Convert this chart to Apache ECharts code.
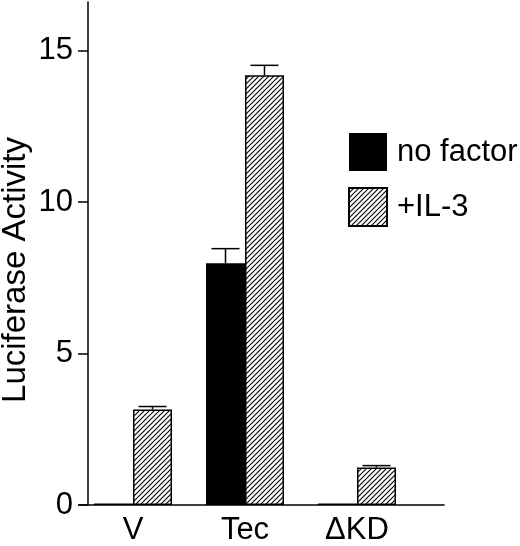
<!DOCTYPE html>
<html>
<head>
<meta charset="utf-8">
<script src="https://cdn.jsdelivr.net/npm/echarts@6/dist/echarts.min.js"></script>
<style>
  html, body { margin: 0; padding: 0; background: #fff; }
  #chart { width: 520px; height: 546px; }
</style>
</head>
<body>
<div id="chart"></div>
<script>
// values
const categories = ['V', 'Tec', 'ΔKD']
const noFactor = [0.05, 7.98, 0.05]
const il3 = [3.15, 14.18, 1.24]
const noFactorErr = [0, 0.48, 0]
const il3Err = [0.1, 0.33, 0.06]
const yTicks = [0, 5, 10, 15]

const FONT = 'Liberation Sans, Arial, Helvetica, sans-serif'
const BAR_W = 39

// diagonal hatch tile
function hatch () {
    const c = document.createElement('canvas')
    c.width = 5
    c.height = 5
    const ctx = c.getContext('2d')
    ctx.fillStyle = '#fff'
    ctx.fillRect(0, 0, 5, 5)
    ctx.strokeStyle = '#000'
    ctx.lineWidth = 1.1
    ctx.beginPath()
    ctx.moveTo(-1, 6); ctx.lineTo(6, -1)
    ctx.moveTo(-1, 1); ctx.lineTo(1, -1)
    ctx.moveTo(4, 6); ctx.lineTo(6, 4)
    ctx.stroke()
    return c
}
const hatchFill = { image: hatch(), repeat: 'repeat' }

// error bar data: [category index, value, error, side]
const errData = []
categories.forEach((c, i) => {
    errData.push([i, noFactor[i], noFactorErr[i], -1])
    errData.push([i, il3[i], il3Err[i], 1])
})

function renderErr (params, api) {
    const e = api.value(2)
    if (!e) return
    const i = api.value(0)
    const v = api.value(1)
    const side = api.value(3)
    const base = api.coord([i, v])
    const top = api.coord([i, v + e])
    const x = base[0] + side * BAR_W / 2
    const st = { stroke: '#000', lineWidth: 1.5 }
    return {
        type: 'group',
        children: [
            { type: 'line', shape: { x1: x, y1: base[1], x2: x, y2: top[1] }, style: st },
            { type: 'line', shape: { x1: x - 14, y1: top[1], x2: x + 14, y2: top[1] }, style: st }
        ]
    }
}

const myChart = echarts.init(document.getElementById('chart'))
myChart.setOption({
    animation: false,
    backgroundColor: '#fff',
    textStyle: { fontFamily: FONT, color: '#000' },
    legend: {
        orient: 'vertical',
        left: 343,
        top: 128,
        itemWidth: 38,
        itemHeight: 38,
        itemGap: 16,
        icon: 'rect',
        textStyle: { fontSize: 31, color: '#000', fontFamily: FONT, padding: [0, 0, 0, 5] },
        data: ['no factor', '+IL-3']
    },
    grid: [
        { left: 77, right: 107, top: 2, bottom: 41, outerBoundsMode: 'none', containLabel: false },
        { left: 79, right: 76, top: 2, bottom: 41, outerBoundsMode: 'none', containLabel: false }
    ],
    xAxis: [
        {
            type: 'category',
            data: categories,
            gridIndex: 0,
            axisLine: { show: false },
            axisTick: { show: false },
            axisLabel: { fontSize: 31, color: '#000', fontFamily: FONT, margin: 10 }
        },
        {
            type: 'value',
            gridIndex: 1,
            axisLine: { show: true, onZero: false, lineStyle: { color: '#000', width: 1.5 } },
            axisTick: { show: false },
            axisLabel: { show: false },
            splitLine: { show: false }
        }
    ],
    yAxis: [
        {
            type: 'value',
            gridIndex: 0,
            min: 0,
            max: 16.6,
            offset: -11,
            name: 'Luciferase Activity',
            nameLocation: 'middle',
            nameRotate: 90,
            nameGap: 56,
            nameMoveOverlap: false,
            nameTextStyle: { fontSize: 33, color: '#000', fontFamily: FONT, padding: [0, 33, 0, 0] },
            axisLine: { show: true, lineStyle: { color: '#000', width: 1.5 } },
            axisTick: { show: true, length: 10, customValues: yTicks, lineStyle: { color: '#000', width: 1.5 } },
            axisLabel: { fontSize: 31, color: '#000', fontFamily: FONT, margin: 15, customValues: yTicks },
            splitLine: { show: false }
        },
        {
            type: 'value',
            gridIndex: 1,
            show: false
        }
    ],
    series: [
        {
            name: 'no factor',
            type: 'bar',
            data: noFactor,
            barWidth: BAR_W,
            barGap: 0,
            itemStyle: { color: '#000' }
        },
        {
            name: '+IL-3',
            type: 'bar',
            data: il3,
            barWidth: BAR_W,
            barGap: 0,
            itemStyle: { color: hatchFill, borderColor: '#000', borderWidth: 1.5 }
        },
        {
            type: 'custom',
            renderItem: renderErr,
            data: errData,
            encode: { x: 0, y: 1 },
            z: 3
        }
    ]
})
</script>
</body>
</html>
